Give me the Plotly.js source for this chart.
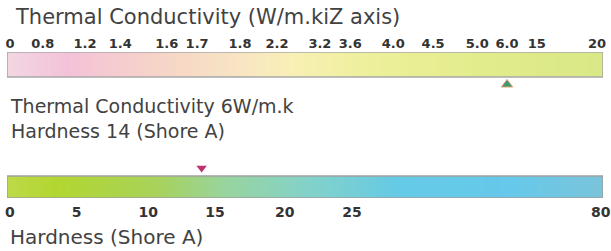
<!DOCTYPE html>
<html>
<head>
<meta charset="utf-8">
<script src="https://cdn.plot.ly/plotly-3.0.1.min.js"></script>
<style>
  html, body { margin: 0; padding: 0; background: #ffffff; }
  #chart { width: 611px; height: 251px; }
</style>
</head>
<body>
<div id="chart"></div>
<script>
// ---- data ----
const tcTickLabels = ["0", "0.8", "1.2", "1.4", "1.6", "1.7", "1.8", "2.2", "3.2", "3.6", "4.0", "4.5", "5.0", "6.0", "15", "20"];
const tcTickValues = [0, 0.8, 1.2, 1.4, 1.6, 1.7, 1.8, 2.2, 3.2, 3.6, 4.0, 4.5, 5.0, 6.0, 15, 20];
const hardTickLabels = ["0", "5", "10", "15", "20", "25", "80"];
const hardTickValues = [0, 5, 10, 15, 20, 25, 80];
const thermalValue = 6;     // W/m.k
const hardnessValue = 14;   // Shore A

// ---- layout: where each tick value sits along its bar (percent of bar length) ----
const tcTickPos = [0.5, 6.0, 13.1, 19.0, 26.8, 31.9, 39.1, 45.3, 52.5, 57.6, 64.8, 71.5, 78.9, 83.9, 88.9, 99.0];
const hardTickPos = [0.5, 11.7, 23.7, 34.9, 46.6, 57.9, 99.6];

function toPos(v, vals, pos) {
  for (let i = 0; i < vals.length - 1; i++) {
    if (v >= vals[i] && v <= vals[i + 1]) {
      const f = (v - vals[i]) / (vals[i + 1] - vals[i]);
      return pos[i] + f * (pos[i + 1] - pos[i]);
    }
  }
  return v <= vals[0] ? pos[0] : pos[pos.length - 1];
}

// gradient ramp for the bars
const N = 150;
const edges = [], ramp = [];
for (let i = 0; i <= N; i++) edges.push(i * 100 / N);
for (let i = 0; i < N; i++) ramp.push(i);

const tcScale = [
  [0.00, "#f2d6e2"], [0.10, "#f4c2d8"], [0.25, "#f6d4c8"], [0.40, "#f8e6c2"],
  [0.48, "#f8f0b4"], [0.60, "#eef09c"], [0.80, "#e2ec8c"], [1.00, "#dae886"]
];
const hardScale = [
  [0.00, "#bcda48"], [0.08, "#b2d630"], [0.25, "#a8d25a"], [0.36, "#98d49c"],
  [0.50, "#84d2c8"], [0.66, "#64cae6"], [0.85, "#66c8ea"], [1.00, "#7ac4da"]
];

const traces = [
  { type: "heatmap", x: edges, y: [0, 1], z: [ramp], colorscale: tcScale, showscale: false,
    xaxis: "x", yaxis: "y", hoverinfo: "skip" },
  { type: "heatmap", x: edges, y: [0, 1], z: [ramp], colorscale: hardScale, showscale: false,
    xaxis: "x2", yaxis: "y2", hoverinfo: "skip" },
  { type: "scatter", mode: "markers", x: [toPos(thermalValue, tcTickValues, tcTickPos)], y: [-0.3],
    marker: { symbol: "triangle-up", size: 10, color: "#3c9a72", line: { color: "#e8a070", width: 1 } },
    xaxis: "x", yaxis: "y", hoverinfo: "skip" },
  { type: "scatter", mode: "markers", x: [toPos(hardnessValue, hardTickValues, hardTickPos)], y: [1.36],
    marker: { symbol: "triangle-down", size: 9, color: "#c03070" },
    xaxis: "x2", yaxis: "y2", hoverinfo: "skip" }
];

const W = 611, H = 251;
const xDom = [7 / W, 603 / W];
const tickFont = { family: "DejaVu Sans", size: 13, color: "#333333", weight: "bold" };
const textColor = "#424242";

const layout = {
  width: W, height: H,
  margin: { l: 0, r: 0, t: 0, b: 0 },
  paper_bgcolor: "#ffffff", plot_bgcolor: "rgba(0,0,0,0)",
  showlegend: false,
  xaxis: { domain: xDom, range: [0, 100], anchor: "y", side: "top",
    tickmode: "array", tickvals: tcTickPos, ticktext: tcTickLabels,
    ticks: "", showgrid: false, zeroline: false, showline: false,
    tickfont: tickFont, ticklabelstandoff: 0, fixedrange: true },
  yaxis: { domain: [1 - 92 / H, 1 - 52 / H], range: [-0.6, 1], visible: false, fixedrange: true },
  xaxis2: { domain: xDom, range: [0, 100], anchor: "y2", side: "bottom",
    tickmode: "array", tickvals: hardTickPos, ticktext: hardTickLabels,
    ticks: "", showgrid: false, zeroline: false, showline: false,
    tickfont: Object.assign({}, tickFont, { size: 14 }), ticklabelstandoff: 4, fixedrange: true },
  yaxis2: { domain: [1 - 198 / H, 1 - 160 / H], range: [0, 38 / 22], visible: false, fixedrange: true },
  shapes: [
    { type: "rect", xref: "x", yref: "y", x0: 0, x1: 100, y0: 0, y1: 1,
      line: { color: "#a8a8a8", width: 1.5 }, fillcolor: "rgba(0,0,0,0)" },
    { type: "rect", xref: "x2", yref: "y2", x0: 0, x1: 100, y0: 0, y1: 1,
      line: { color: "#a0a0a0", width: 1.5 }, fillcolor: "rgba(0,0,0,0)" }
  ],
  annotations: [
    { text: "Thermal Conductivity (W/m.kiZ axis)", xref: "paper", yref: "paper",
      x: 13 / W, y: 1 - 17 / H, xanchor: "left", yanchor: "middle", showarrow: false,
      font: { family: "DejaVu Sans", size: 21, color: textColor } },
    { text: "Thermal Conductivity " + thermalValue + "W/m.k<br>Hardness " + hardnessValue + " (Shore A)",
      xref: "paper", yref: "paper", align: "left",
      x: 8 / W, y: 1 - 118 / H, xanchor: "left", yanchor: "middle", showarrow: false,
      font: { family: "DejaVu Sans", size: 19, color: textColor } },
    { text: "Hardness (Shore A)", xref: "paper", yref: "paper",
      x: 8 / W, y: 1 - 237 / H, xanchor: "left", yanchor: "middle", showarrow: false,
      font: { family: "DejaVu Sans", size: 20, color: textColor } }
  ]
};

Plotly.newPlot("chart", traces, layout, { staticPlot: true, displayModeBar: false });
</script>
</body>
</html>
